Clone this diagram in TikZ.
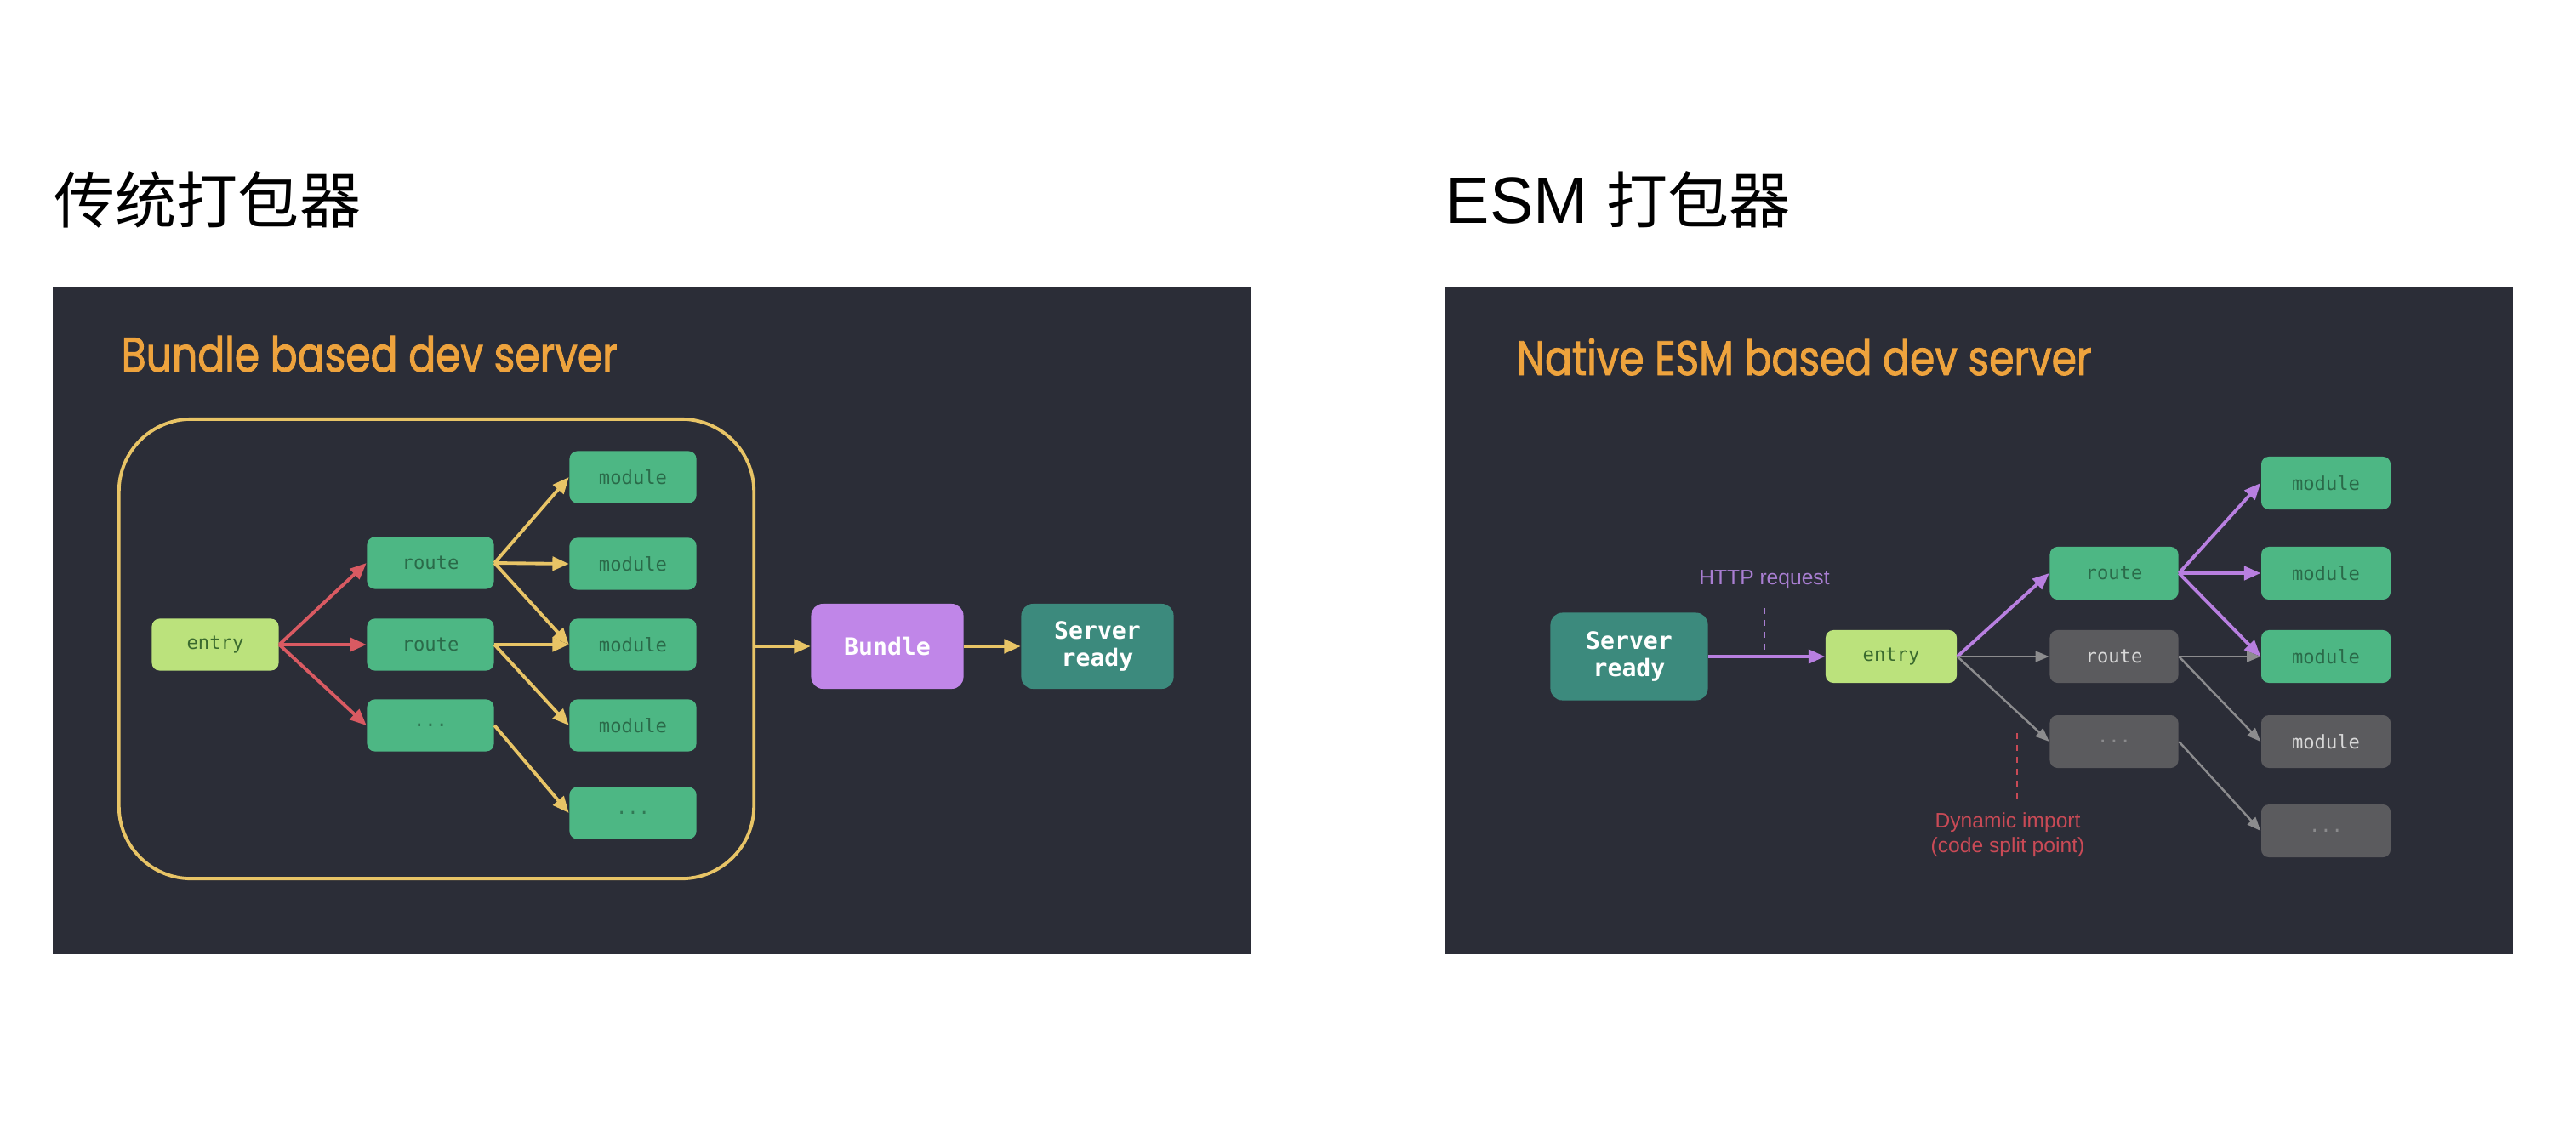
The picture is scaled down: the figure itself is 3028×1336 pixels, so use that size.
\documentclass[tikz,border=0pt]{standalone}
\usepackage{fontspec}
\setmainfont{Poppins}
\newfontfamily\cjkfont{Noto Sans CJK SC}
\newfontfamily\monofont{DejaVu Sans Mono}
\newfontfamily\annfont{Liberation Sans}
\newfontfamily\titlefont[FakeStretch=0.83,FakeBold=1.6]{Poppins}
\usetikzlibrary{arrows.meta}
\definecolor{panelbg}{HTML}{2B2D37}
\definecolor{boxgreen}{HTML}{4DB784}
\definecolor{greentext}{HTML}{2A6A49}
\definecolor{entrygreen}{HTML}{BBE27C}
\definecolor{entrytext}{HTML}{3A6A2E}
\definecolor{boxgray}{HTML}{5B5B5E}
\definecolor{graytext}{HTML}{D8D8D8}
\definecolor{graydots}{HTML}{8A8A8C}
\definecolor{bundlepurple}{HTML}{C086E8}
\definecolor{serverteal}{HTML}{3C8A7D}
\definecolor{ayellow}{HTML}{E8C466}
\definecolor{ared}{HTML}{D95A62}
\definecolor{apurple}{HTML}{B87FE0}
\definecolor{agray}{HTML}{8C8C8E}
\definecolor{titleorange}{HTML}{EEA33D}
\definecolor{httppurple}{HTML}{A97ED2}
\definecolor{dynred}{HTML}{C94A56}
\begin{document}
\begin{tikzpicture}[x=0.01cm,y=-0.01cm,
  box/.style={rectangle, rounded corners=0.09cm, inner sep=0pt,
    font=\monofont\fontsize{6.3pt}{7pt}\selectfont,
    minimum width=1.49cm, minimum height=0.61cm},
  gbox/.style={box, fill=boxgreen, text=greentext},
  gdots/.style={box, fill=boxgreen, text=greentext!80!boxgreen},
  graybox/.style={box, fill=boxgray, text=graytext},
  graydotbox/.style={box, fill=boxgray, text=graydots},
  entrybox/.style={box, fill=entrygreen, text=entrytext},
  bigbox/.style={rectangle, rounded corners=0.14cm, inner sep=0pt, align=center,
    font=\monofont\bfseries\fontsize{8pt}{9.2pt}\selectfont},
  yarrow/.style={draw=ayellow, line width=1.1pt, -{Triangle[length=5.5pt,width=4.6pt]}},
  rarrow/.style={draw=ared, line width=1.1pt, -{Triangle[length=5.5pt,width=4.6pt]}},
  parrow/.style={draw=apurple, line width=1.1pt, -{Triangle[length=5.5pt,width=4.6pt]}},
  garrow/.style={draw=agray, line width=0.7pt, -{Triangle[length=4.6pt,width=3.6pt]}},
  ctitle/.style={anchor=base west, inner sep=0pt, font=\cjkfont\fontsize{20.5pt}{24pt}\selectfont, text=black},
  etitle/.style={anchor=base west, inner sep=0pt, font=\titlefont\fontsize{16.2pt}{19pt}\selectfont, text=titleorange},
  ann/.style={inner sep=0pt, font=\annfont\fontsize{7pt}{8.3pt}\selectfont, align=center}
]
\useasboundingbox[fill=white] (0,0) rectangle (3028,1336);

% headings
\node[ctitle] (hl) at (63,262) {传统打包器};
\node[ctitle, font=\annfont\fontsize{21.9pt}{24pt}\selectfont] (hr) at (1699,262) {ESM {\cjkfont\fontsize{20.5pt}{24pt}\selectfont 打包器}};

% panels
\fill[panelbg] (62,338) rectangle (1471,1122);
\fill[panelbg] (1699,338) rectangle (2954,1122);

% ---------- left panel ----------
\node[etitle] (tl) at (142,437) {Bundle based dev server};
\node[draw=ayellow, line width=1.1pt, rounded corners=0.85cm, inner sep=0pt,
  minimum width=7.46cm, minimum height=5.40cm] (frame) at (513,763) {};

\node[entrybox] (entry) at (253,758) {entry};
\node[gbox] (r1) at (506,662) {route};
\node[gbox] (r2) at (506,758) {route};
\node[gdots] (r3) at (506,853) {...};
\node[gbox] (m1) at (744,561) {module};
\node[gbox] (m2) at (744,663) {module};
\node[gbox] (m3) at (744,758) {module};
\node[gbox] (m4) at (744,853) {module};
\node[gdots] (m5) at (744,956) {...};

\node[bigbox, fill=bundlepurple, text=white, minimum width=1.79cm, minimum height=1.0cm] (bundle) at (1043,760) {Bundle};
\node[bigbox, fill=serverteal, text=white, minimum width=1.79cm, minimum height=1.0cm] (sl) at (1290,760) {Server\\ready};

\draw[rarrow] (entry.east) -- (r1.west);
\draw[rarrow] (entry.east) -- (r2.west);
\draw[rarrow] (entry.east) -- (r3.west);
\draw[yarrow] (r1.east) -- (m1.west);
\draw[yarrow] (r1.east) -- (m2.west);
\draw[yarrow] (r1.east) -- (m3.west);
\draw[yarrow] (r2.east) -- (m3.west);
\draw[yarrow] (r2.east) -- (m4.west);
\draw[yarrow] (r3.east) -- (m5.west);
\draw[yarrow] (frame.east |- bundle.west) -- (bundle.west);
\draw[yarrow] (bundle.east) -- (sl.west);

% ---------- right panel ----------
\node[etitle] (tr) at (1782,441) {Native ESM based dev server};

\node[bigbox, fill=serverteal, text=white, minimum width=1.85cm, minimum height=1.03cm] (sr) at (1915,772) {Server\\ready};
\node[entrybox, minimum width=1.54cm, minimum height=0.62cm] (entryr) at (2223,772) {entry};
\node[gbox, minimum width=1.51cm, minimum height=0.62cm] (rr1) at (2485,674) {route};
\node[graybox, minimum width=1.51cm, minimum height=0.62cm] (rr2) at (2485,772) {route};
\node[graydotbox, minimum width=1.51cm, minimum height=0.62cm] (rr3) at (2485,872) {...};
\node[gbox, minimum width=1.52cm, minimum height=0.62cm] (mm1) at (2734,568) {module};
\node[gbox, minimum width=1.52cm, minimum height=0.62cm] (mm2) at (2734,674) {module};
\node[gbox, minimum width=1.52cm, minimum height=0.62cm] (mm3) at (2734,772) {module};
\node[graybox, minimum width=1.52cm, minimum height=0.62cm] (mm4) at (2734,872) {module};
\node[graydotbox, minimum width=1.52cm, minimum height=0.62cm] (mm5) at (2734,977) {...};

\draw[parrow] (sr.east) -- (entryr.west);
\draw[parrow] (entryr.east) -- (rr1.west);
\draw[garrow] (entryr.east) -- (rr2.west);
\draw[garrow] (entryr.east) -- (rr3.west);
\draw[parrow] (rr1.east) -- (mm1.west);
\draw[parrow] (rr1.east) -- (mm2.west);
\draw[parrow] (rr1.east) -- (mm3.west);
\draw[garrow] (rr2.east) -- (mm3.west);
\draw[garrow] (rr2.east) -- (mm4.west);
\draw[garrow] (rr3.east) -- (mm5.west);

\node[ann, text=httppurple] (http) at (2074,682) {HTTP request};
\coordinate (httptip) at (2074,768);
\draw[httppurple, line width=0.6pt, dash pattern=on 2pt off 2pt] ([yshift=-6pt]http.south) -- (httptip);

\node[ann, text=dynred, anchor=north] (dyn) at (2360,955) {Dynamic import\\(code split point)};
\coordinate (dyntip) at (2371,857);
\draw[dynred, line width=0.6pt, dash pattern=on 2pt off 2pt] (dyn.north -| dyntip) ++(0,-16) -- (dyntip);
\end{tikzpicture}
\end{document}
